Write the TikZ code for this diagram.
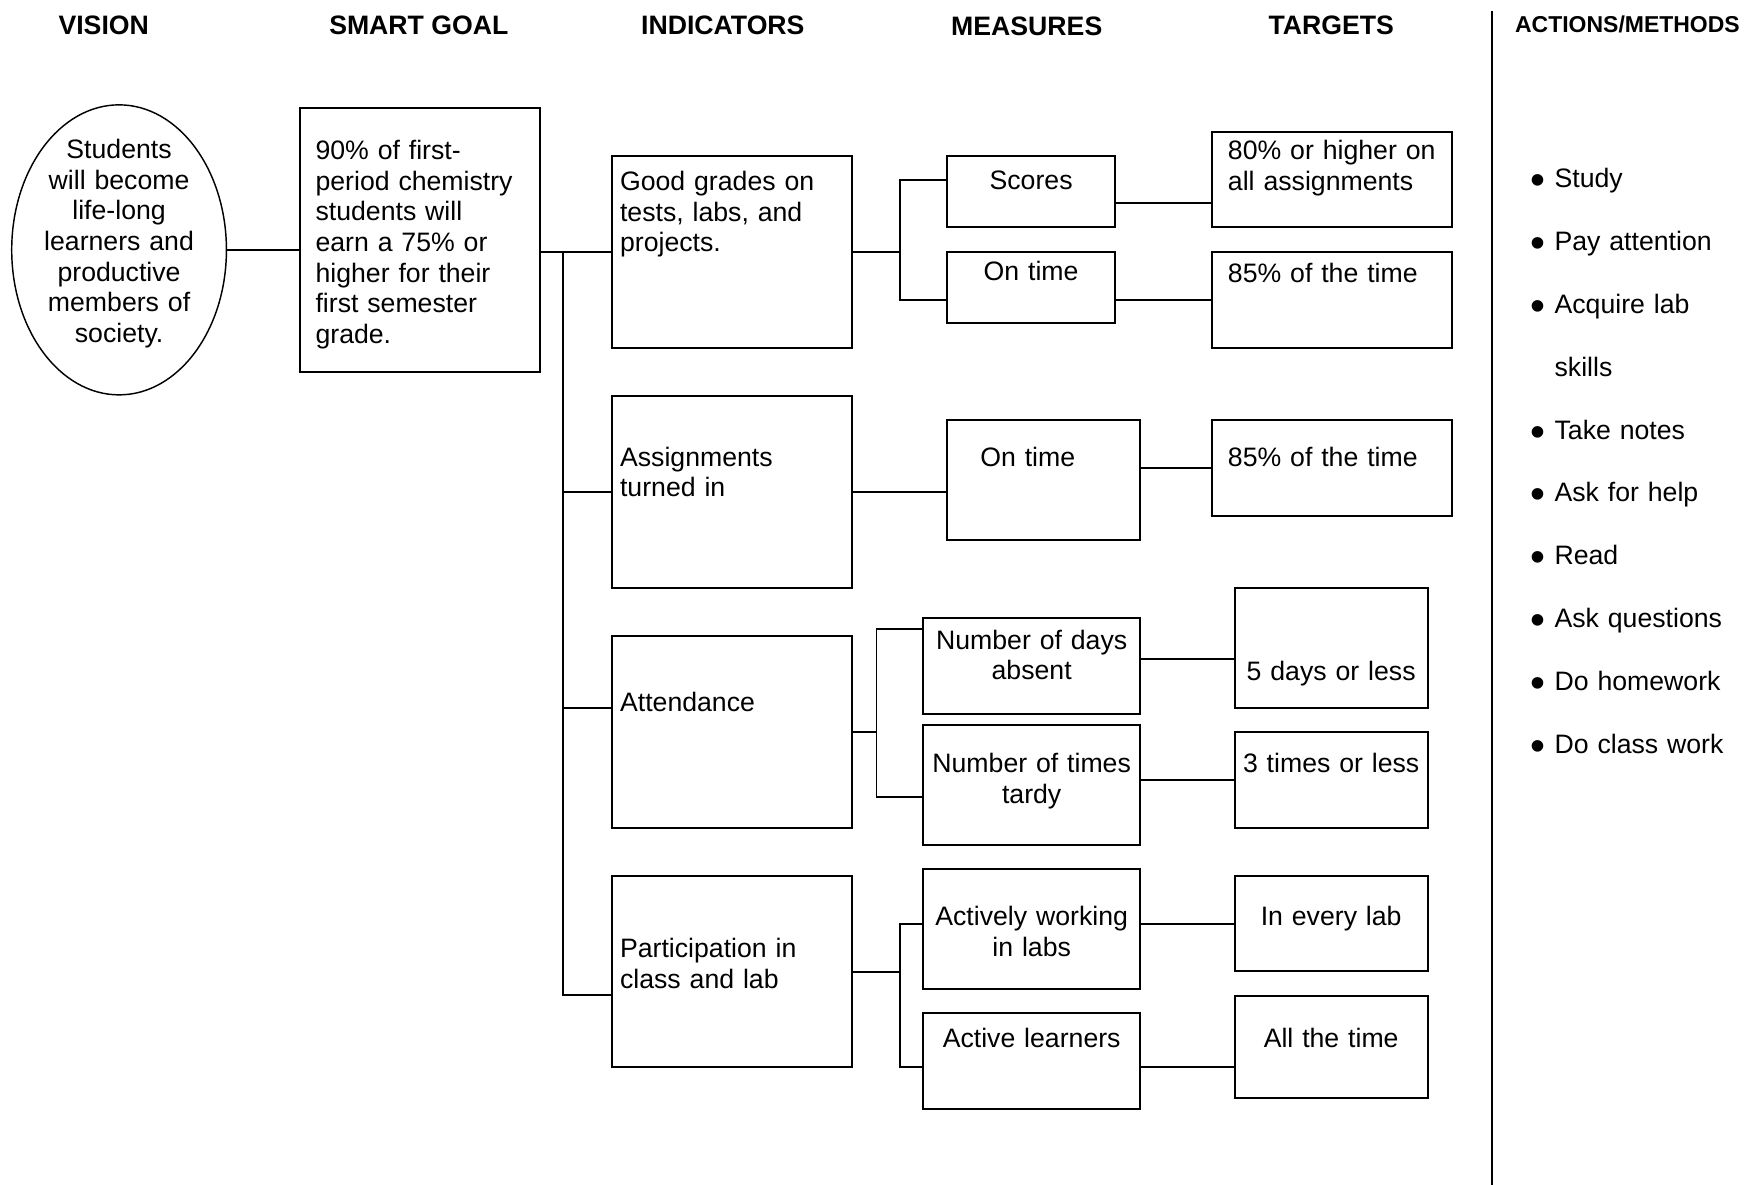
\documentclass[tikz,border=0pt]{standalone}
\usepackage{fontspec}
\setmainfont{Liberation Sans}
\usepackage{graphicx}
\usepackage{tikz}
\usetikzlibrary{shapes.geometric}
\newcommand{\act}[1]{\makebox[20.5pt][l]{\hspace{-1.5pt}%
	\raisebox{-6.3pt}{\scalebox{1.6}{\textbullet}}}#1}
\tikzset{
		normal/.style={font=\fontsize{23.9}{27.5}\selectfont},
		header/.style={font=\fontsize{23.9}{27.5}\selectfont\bfseries,
			anchor=base, inner sep=0pt},
		box/.style={
			rectangle,
			draw=black, line width=1.8pt,
			anchor=north west,
			inner ysep=0pt,
			normal},
		goal/.style={box, align=left, inner xsep=14pt, text width=187pt},
		indicator/.style={box, align=left, inner xsep=7pt, text width=201pt},
		measure/.style={box, align=center, inner xsep=6pt},
		target/.style={box, align=left, inner xsep=14pt, text width=186.5pt},
		result/.style={box, align=center, inner xsep=6pt, text width=161pt},
		link/.style={draw, line width=1.6pt},
	}

\begin{document}
\begin{tikzpicture}[x=1pt, y=-1pt,
			vision/.style={ellipse, draw, line width=1.3pt,
				minimum width=192.5pt, minimum height=260pt, inner sep=0pt,
				text width=135pt, align=center,
				text height=0pt, text depth=164pt, normal},
			actions/.style={anchor=base west, inner sep=0pt, align=left,
				text width=185pt, font=\fontsize{23.9}{56.4}\selectfont},
			]
			\useasboundingbox (0,0) rectangle (1568,1062);
			
			% column heads
			\node[header] (hV) at (93,31) {VISION};
			\node[header] (hG) at (375.5,31) {SMART GOAL};
			\node[header] (hI) at (648,31) {INDICATORS};
			\node[header] (hM) at (920.5,32) {MEASURES};
			\node[header] (hT) at (1193.5,31) {TARGETS};
			\node[header, font=\fontsize{20.6}{24}\selectfont\bfseries] (hA)
				at (1459,29.3) {ACTIONS/METHODS};
			\draw[line width=1.8pt] (1338,10) -- (1338,1062);
			
			% vision and goal
			\node[vision] (V) at (106.75,224) {Students\\will become\\life-long\\
				learners and\\productive\\members of\\society.};
			\node[goal, text height=46pt, text depth=190.6pt] (G) at (268,96)
				{90\% of first-\\period chemistry\\students will\\earn a 75\% or\\
				higher for their\\first semester\\grade.};
			
			% indicators
			\node[indicator, text height=31pt, text depth=141pt] (I1) at (548,139)
				{Good grades on\\tests, labs, and\\projects.};
			\node[indicator, text height=63pt, text depth=109pt] (I2) at (548,354)
				{Assignments\\turned in};
			\node[indicator, text height=67.6pt, text depth=104.4pt] (I3) at (548,569)
				{Attendance};
			\node[indicator, text height=73.2pt, text depth=98.3pt] (I4) at (548,784.5)
				{Participation in\\class and lab};
			
			% measures
			\node[measure, text width=139pt, text height=30pt, text depth=34pt]
				(M1) at (848,139) {Scores};
			\node[measure, text width=139pt, text height=26pt, text depth=38pt]
				(M2) at (848,225) {On time};
			\node[box, align=left, inner xsep=30pt, text width=113pt,
				text height=41.4pt, text depth=66pt] (M3) at (848,375.6) {On time};
			\node[measure, text width=182pt, text height=28pt, text depth=58pt]
				(M4) at (827,553) {Number of days\\absent};
			\node[measure, text width=182pt, text height=43pt, text depth=64.7pt]
				(M5) at (827,649) {Number of times\\tardy};
			\node[measure, text width=182pt, text height=51pt, text depth=57pt]
				(M6) at (827,778) {Actively working\\in labs};
			\node[measure, text width=182pt, text height=31pt, text depth=55.5pt]
				(M7) at (827,907) {Active learners};
			
			% targets
			\node[target, text height=24.5pt, text depth=61pt] (T1) at (1086,117.5)
				{80\% or higher on\\all assignments};
			\node[target, text height=27pt, text depth=59pt] (T2) at (1086,225)
				{85\% of the time};
			\node[target, text height=41.4pt, text depth=44.7pt] (T3) at (1086,375.6)
				{85\% of the time};
			\node[result, text height=83.6pt, text depth=24.4pt] (T4) at (1106,526)
				{5 days or less};
			\node[result, text height=36.4pt, text depth=49pt] (T5) at (1106,655.6)
				{3 times or less};
			\node[result, text height=44.5pt, text depth=41pt] (T6) at (1106,784.5)
				{In every lab};
			\node[result, text height=46pt, text depth=45.5pt] (T7) at (1106,892)
				{All the time};
			
			% actions
			\node[actions] (A) at (1373,168) {\act{Study}\\\act{Pay attention}\\
				\act{Acquire lab}\\\hspace*{20.5pt}skills\\\act{Take notes}\\
				\act{Ask for help}\\\act{Read}\\\act{Ask questions}\\
				\act{Do homework}\\\act{Do class work}};
			
			% vision -> goal -> indicators
			\draw[link] (V.east) -- (V.east -| G.west);
			\draw[link] (G.east |- I1.west) -- (I1.west);
			\coordinate (bus) at (505,225);
			\coordinate (i3in) at ([yshift=21pt]I3.west);
			\coordinate (i4in) at ([yshift=-20.75pt]I4.west);
			\draw[link] (bus) -- (bus |- i4in) -- (i4in);
			\draw[link] (bus |- I2.west) -- (I2.west);
			\draw[link] (bus |- i3in) -- (i3in);
			
			% indicators -> measures
			\draw[link] (I1.east) -- ++(42,0) coordinate (k1);
			\draw[link] ([yshift=10.5pt]M1.west) -| (k1) |- ([yshift=-11pt]M2.west);
			\draw[link] (I2.east) -- (I2.east -| M3.west);
			\draw[link] (I3.east) -- ++(21,0) coordinate (k3);
			\draw[link] ([yshift=33pt]M4.west) -| (k3) |- ([yshift=-10.85pt]M5.west);
			\draw[link] (I4.east) -- ++(42,0) coordinate (k4);
			\draw[link] ([yshift=4.5pt]M6.west) -| (k4) |- ([yshift=-5.75pt]M7.west);
			
			% measures -> targets
			\coordinate (m1out) at ([yshift=-10pt]M1.east);
			\coordinate (m4out) at ([yshift=6pt]M4.east);
			\coordinate (m7out) at ([yshift=-5.75pt]M7.east);
			\draw[link] (m1out) -- (m1out -| T1.west);
			\draw[link] (M2.east |- T2.west) -- (T2.west);
			\draw[link] (M3.east |- T3.west) -- (T3.west);
			\draw[link] (m4out) -- (m4out -| T4.west);
			\draw[link] (M5.east |- T5.west) -- (T5.west);
			\draw[link] (M6.east |- T6.west) -- (T6.west);
			\draw[link] (m7out) -- (m7out -| T7.west);
		\end{tikzpicture}
\end{document}
